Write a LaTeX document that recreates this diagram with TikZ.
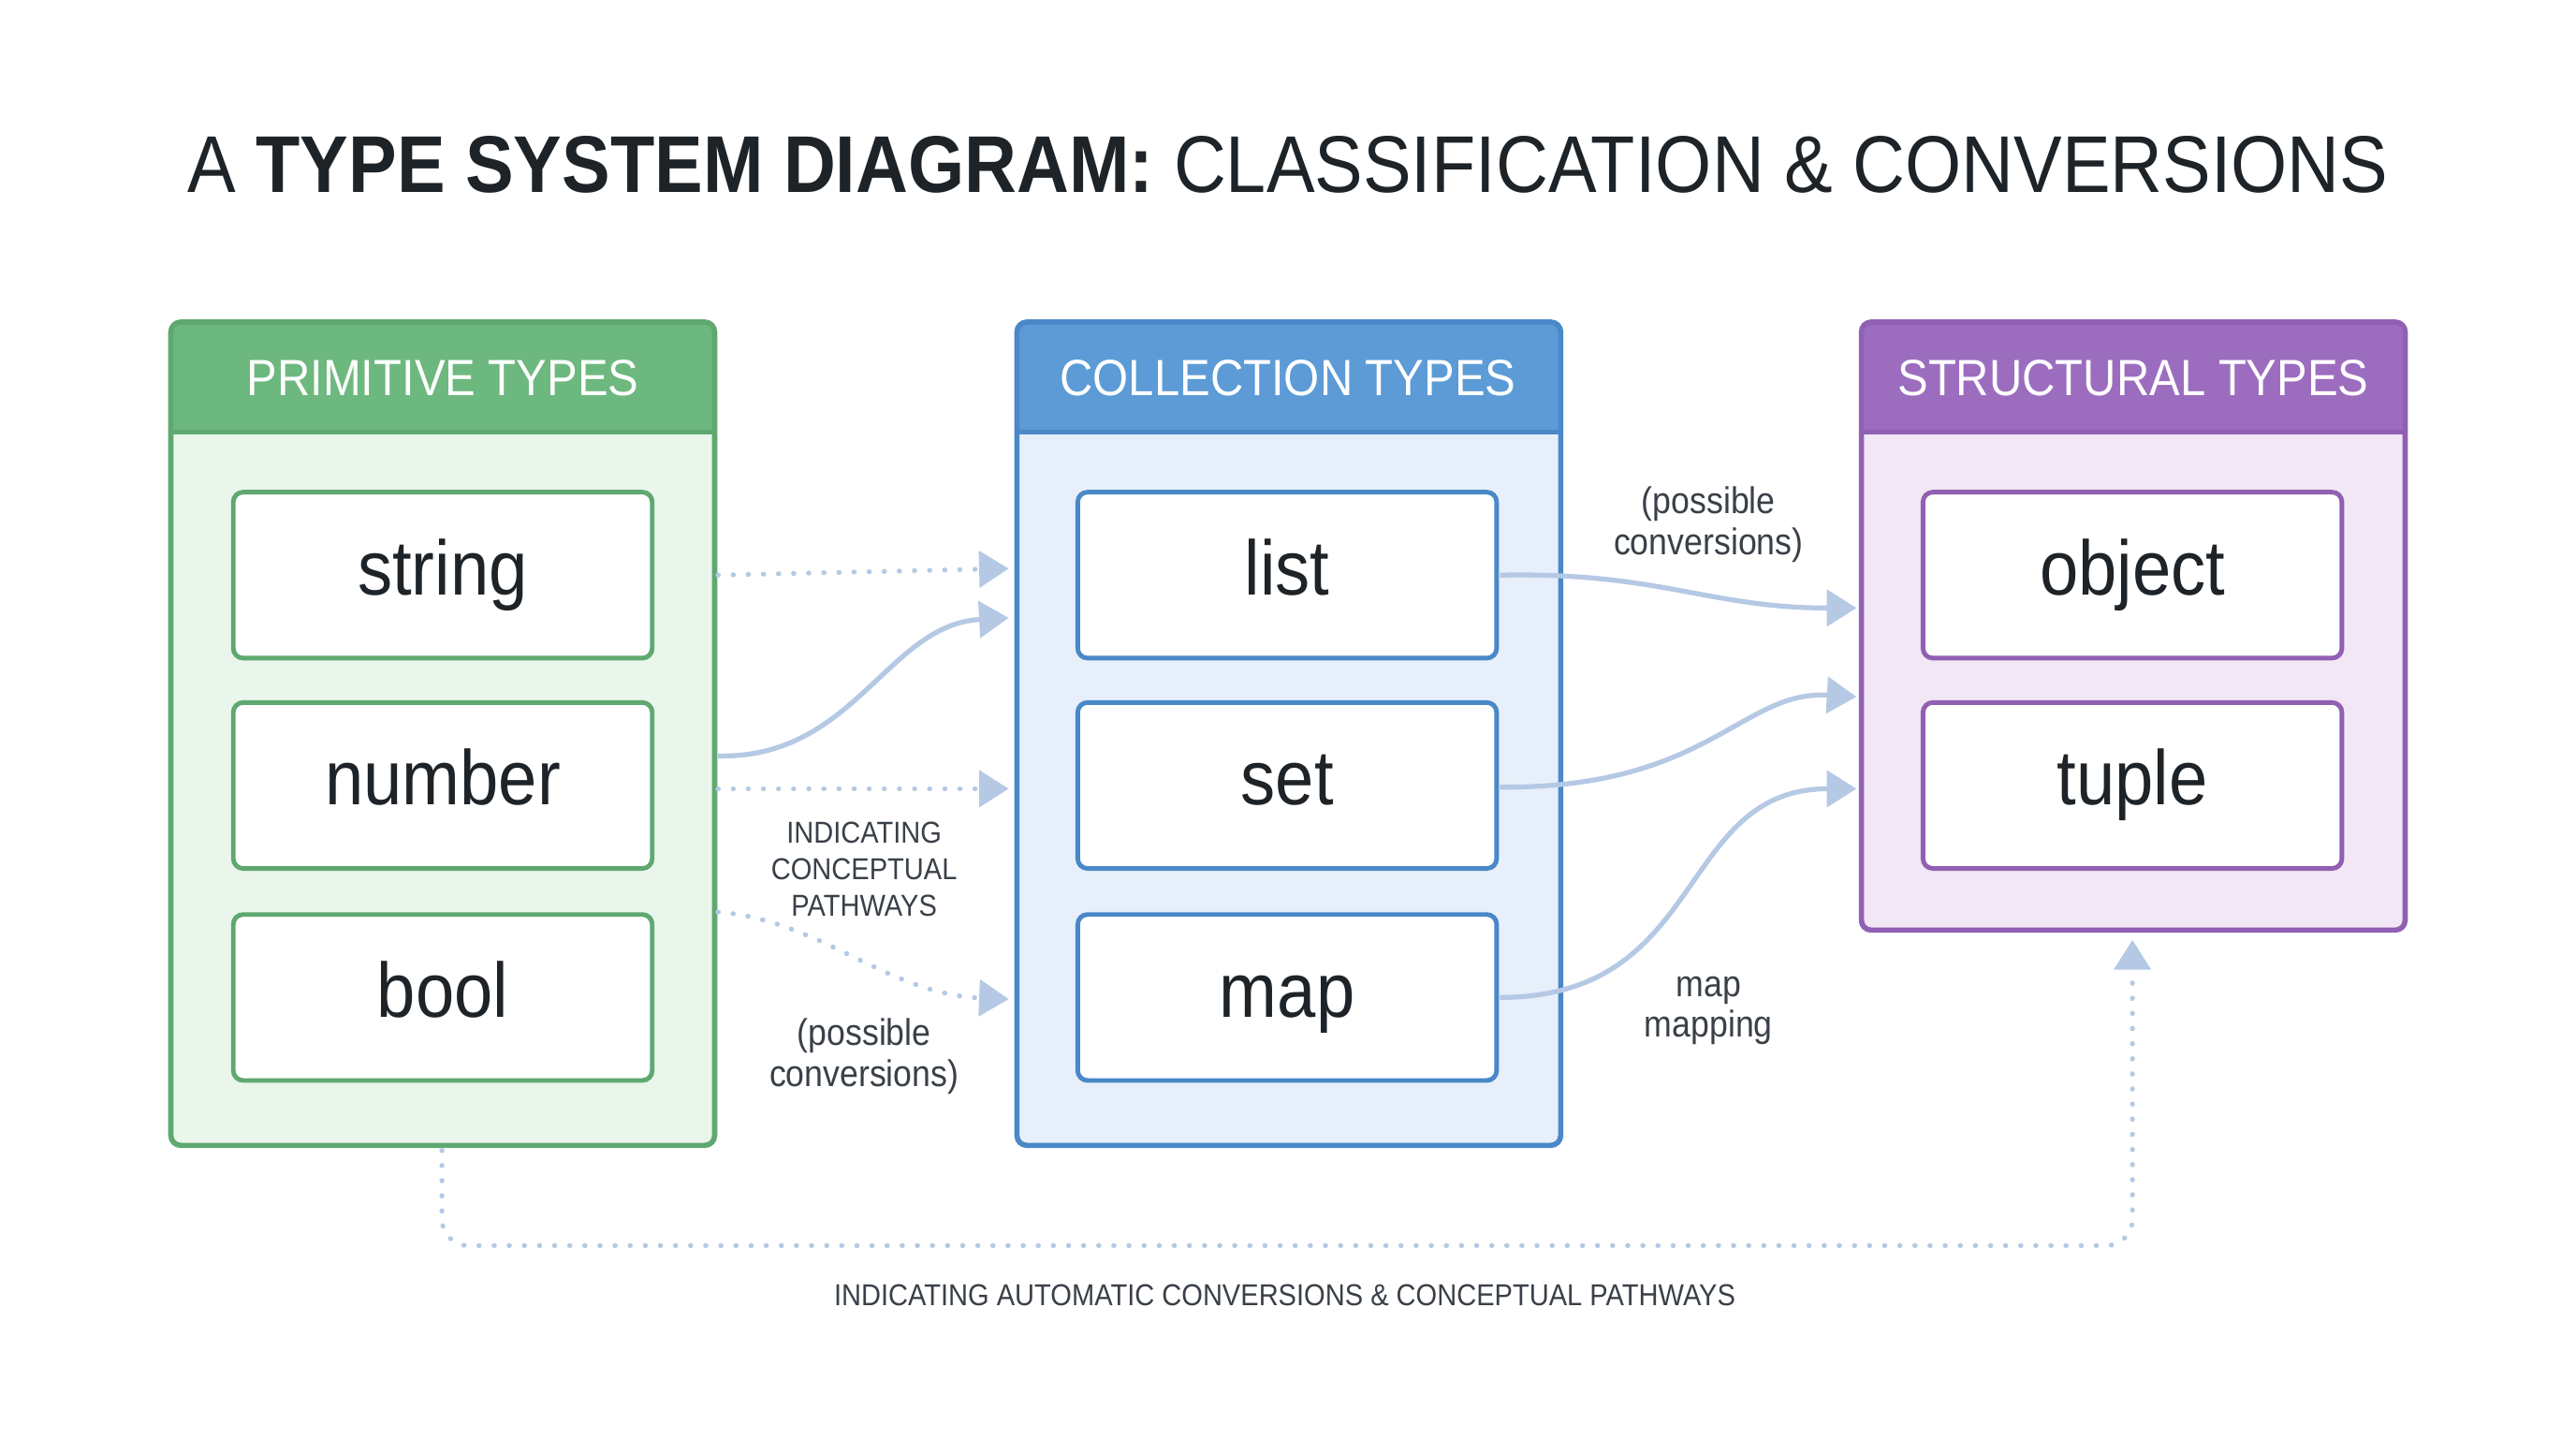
\documentclass[tikz,border=0pt]{standalone}
\usepackage{fontspec}
\setmainfont[FakeStretch=0.9]{Liberation Sans}
\usetikzlibrary{arrows.meta}
\definecolor{gH}{HTML}{6DB87E}\definecolor{gB}{HTML}{5FA870}\definecolor{gF}{HTML}{EAF5EB}
\definecolor{bH}{HTML}{5C9BD6}\definecolor{bB}{HTML}{4A88C8}\definecolor{bF}{HTML}{E7EFFA}
\definecolor{pH}{HTML}{9C6DBF}\definecolor{pB}{HTML}{9060B3}\definecolor{pF}{HTML}{F2E7F4}
\definecolor{arr}{HTML}{B5C9E5}\definecolor{txt}{HTML}{1E2328}\definecolor{lbl}{HTML}{3A4048}
\tikzset{
 panel/.style={draw=#1, line width=1.6pt, rounded corners=3pt},
 item/.style={draw=#1, line width=1.4pt, fill=white, rounded corners=3pt, minimum width=127.5pt, minimum height=50.5pt, text height=17pt, text depth=5pt, font=\fontsize{23.5}{26}\selectfont, text=txt},
 head/.style={font=\fontsize{15.5}{18}\selectfont, text=white},
 conn/.style={draw=arr, line width=1.5pt, -{Triangle[length=9pt,width=11pt]}},
 dotc/.style={conn, dash pattern=on 0.1pt off 4.5pt, line cap=round},
 lab/.style={font=\fontsize{11.3}{12.5}\selectfont, text=lbl, align=center},
 slab/.style={font=\fontsize{9.2}{11}\selectfont, text=lbl, align=center}
}
\begin{document}
\begin{tikzpicture}[x=0.5pt,y=-0.5pt]
\useasboundingbox (0,0) rectangle (1568,876);
\fill[white] (0,0) rectangle (1568,876);
\node[font=\fontsize{24.5}{28}\selectfont, text=txt] (title) at (784,100) {A \textbf{TYPE SYSTEM DIAGRAM:} CLASSIFICATION \& CONVERSIONS};
\foreach \n/\x/\yb/\c in {P/104/697/g, C/619/697/b, S/1133/566/p}{
 \fill[\c F, rounded corners=3pt] (\x,196) rectangle (\x+331,\yb);
 \fill[\c H, rounded corners=3pt] (\x,196) rectangle (\x+331,263);
 \fill[\c H] (\x,240) rectangle (\x+331,263);
 \draw[\c B, line width=1.6pt] (\x,263) -- (\x+331,263);
 \draw[panel=\c B] (\x,196) rectangle (\x+331,\yb);
}
\node[head] (hP) at (269.5,230) {PRIMITIVE TYPES};
\node[head] (hC) at (784,230) {COLLECTION TYPES};
\node[head] (hS) at (1298.5,230) {STRUCTURAL TYPES};
\node[item=gB] (string) at (269.5,350) {string};
\node[item=gB] (number) at (269.5,478) {number};
\node[item=gB] (bool) at (269.5,607) {bool};
\node[item=bB] (list) at (783.5,350) {list};
\node[item=bB] (set) at (783.5,478) {set};
\node[item=bB] (map) at (783.5,607) {map};
\node[item=pB] (object) at (1298,350) {object};
\node[item=pB] (tuple) at (1298,478) {tuple};
\coordinate (a1) at (437,350); \coordinate (b1) at (614,346);
\coordinate (a2) at (437,460); \coordinate (b2) at (614,376);
\coordinate (a3) at (437,480); \coordinate (b3) at (614,480);
\coordinate (a4) at (437,555); \coordinate (b4) at (614,608);
\coordinate (c1) at (913,350); \coordinate (d1) at (1130,370);
\coordinate (c2) at (913,479); \coordinate (d2) at (1130,424);
\coordinate (c3) at (913,607); \coordinate (d3) at (1130,480);
\coordinate (e0) at (269,700); \coordinate (e1) at (269,758); \coordinate (e2) at (1298,758); \coordinate (e3) at (1298,572);
\draw[dotc] (a1) -- (b1);
\draw[conn] (a2) .. controls (520,462) and (540,380) .. (b2);
\draw[dotc] (a3) -- (b3);
\draw[dotc] (a4) .. controls (500,560) and (540,605) .. (b4);
\draw[conn] (c1) .. controls (1010,348) and (1040,370) .. (d1);
\draw[conn] (c2) .. controls (1040,480) and (1060,420) .. (d2);
\draw[conn] (c3) .. controls (1040,607) and (1020,480) .. (d3);
\draw[dotc, rounded corners=8pt] (e0) -- (e1) -- (e2) -- (e3);
\node[lab] (l1) at (1040,319) {(possible\\conversions)};
\node[slab] (l2) at (526,529) {INDICATING\\CONCEPTUAL\\PATHWAYS};
\node[lab] (l3) at (526,643) {(possible\\conversions)};
\node[lab] (l4) at (1040,615) {map\\mapping};
\node[slab] (l5) at (782,788) {INDICATING AUTOMATIC CONVERSIONS \& CONCEPTUAL PATHWAYS};
\end{tikzpicture}
\end{document}
